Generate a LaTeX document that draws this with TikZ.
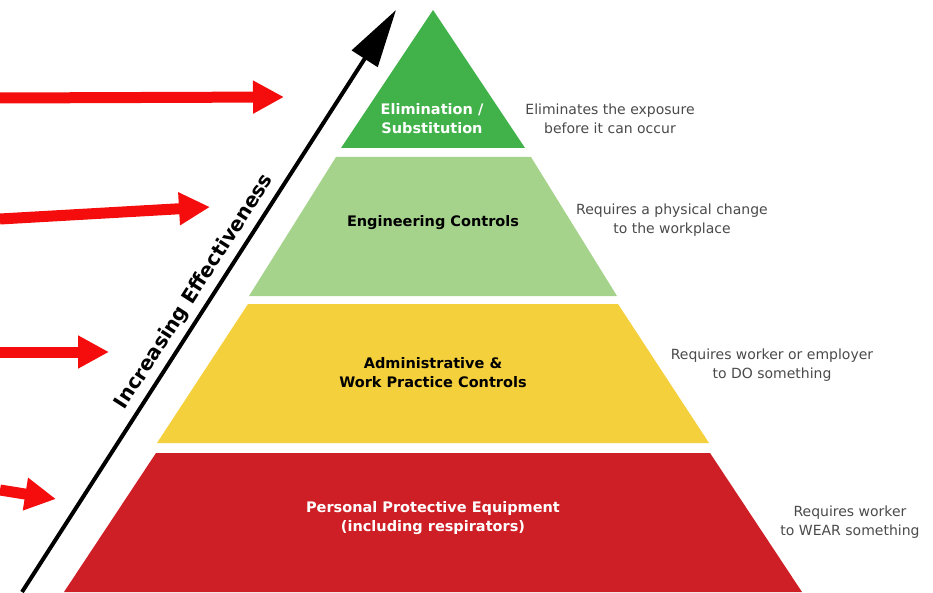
\documentclass[tikz,border=0pt]{standalone}
\usepackage{fontspec}
\setmainfont{DejaVu Sans}
\usetikzlibrary{arrows.meta}
\definecolor{elimgreen}{HTML}{41B14A}
\definecolor{enggreen}{HTML}{A5D38C}
\definecolor{admyellow}{HTML}{F4D03C}
\definecolor{ppered}{HTML}{CE1F26}
\definecolor{notegray}{HTML}{4A4A4A}
\definecolor{pointred}{HTML}{F50D0D}
\tikzset{
  tierlabel/.style={font=\bfseries\fontsize{14.5}{19}\selectfont, align=center},
  tiernote/.style={font=\fontsize{14}{19}\selectfont, text=notegray, align=center},
  pointer/.style={draw=pointred, line width=11pt, -{Triangle[length=31pt,width=31pt]}},
}
\begin{document}
\begin{tikzpicture}[x=1pt,y=-1pt]
\useasboundingbox (0,0) rectangle (933,593);
\fill[elimgreen] (433,10) -- (525,148) -- (341,148) -- cycle;
\fill[enggreen] (336,157) -- (531,157) -- (617,296) -- (249,296) -- cycle;
\fill[admyellow] (248,304) -- (618,304) -- (709,443) -- (157,443) -- cycle;
\fill[ppered] (156,453) -- (710,453) -- (802,592) -- (64,592) -- cycle;
\node[tierlabel, text=white] (elim) at (432,119) {Elimination /\\Substitution};
\node[tierlabel] (eng) at (433,223) {Engineering Controls};
\node[tierlabel] (adm) at (433,373) {Administrative \&\\Work Practice Controls};
\node[tierlabel, text=white] (ppe) at (433,518) {Personal Protective Equipment\\(including respirators)};
\node[tiernote] (elimnote) at (610,119) {Eliminates the exposure\\before it can occur};
\node[tiernote] (engnote) at (672,220) {Requires a physical change\\to the workplace};
\node[tiernote] (admnote) at (772,365) {Requires worker or employer\\to DO something};
\node[tiernote] (ppenote) at (850,522) {Requires worker\\to WEAR something};
\coordinate (effbot) at (22,592);
\coordinate (efftop) at (396,10);
\draw[line width=4pt, -{Triangle[length=58pt,width=30pt]}] (effbot) -- (efftop)
  node[pos=0.5, sloped, above=2pt, font=\bfseries\fontsize{20}{22}\selectfont] (effect) {Increasing Effectiveness};
\coordinate (p1s) at (0,98);
\coordinate (p1e) at (284,97);
\coordinate (p2s) at (0,219);
\coordinate (p2e) at (210,207);
\coordinate (p3s) at (0,352);
\coordinate (p3e) at (109,352);
\coordinate (p4s) at (0,490);
\coordinate (p4e) at (56,499);
\draw[pointer] (p1s) -- (p1e);
\draw[pointer] (p2s) -- (p2e);
\draw[pointer] (p3s) -- (p3e);
\draw[pointer] (p4s) -- (p4e);
\end{tikzpicture}
\end{document}
